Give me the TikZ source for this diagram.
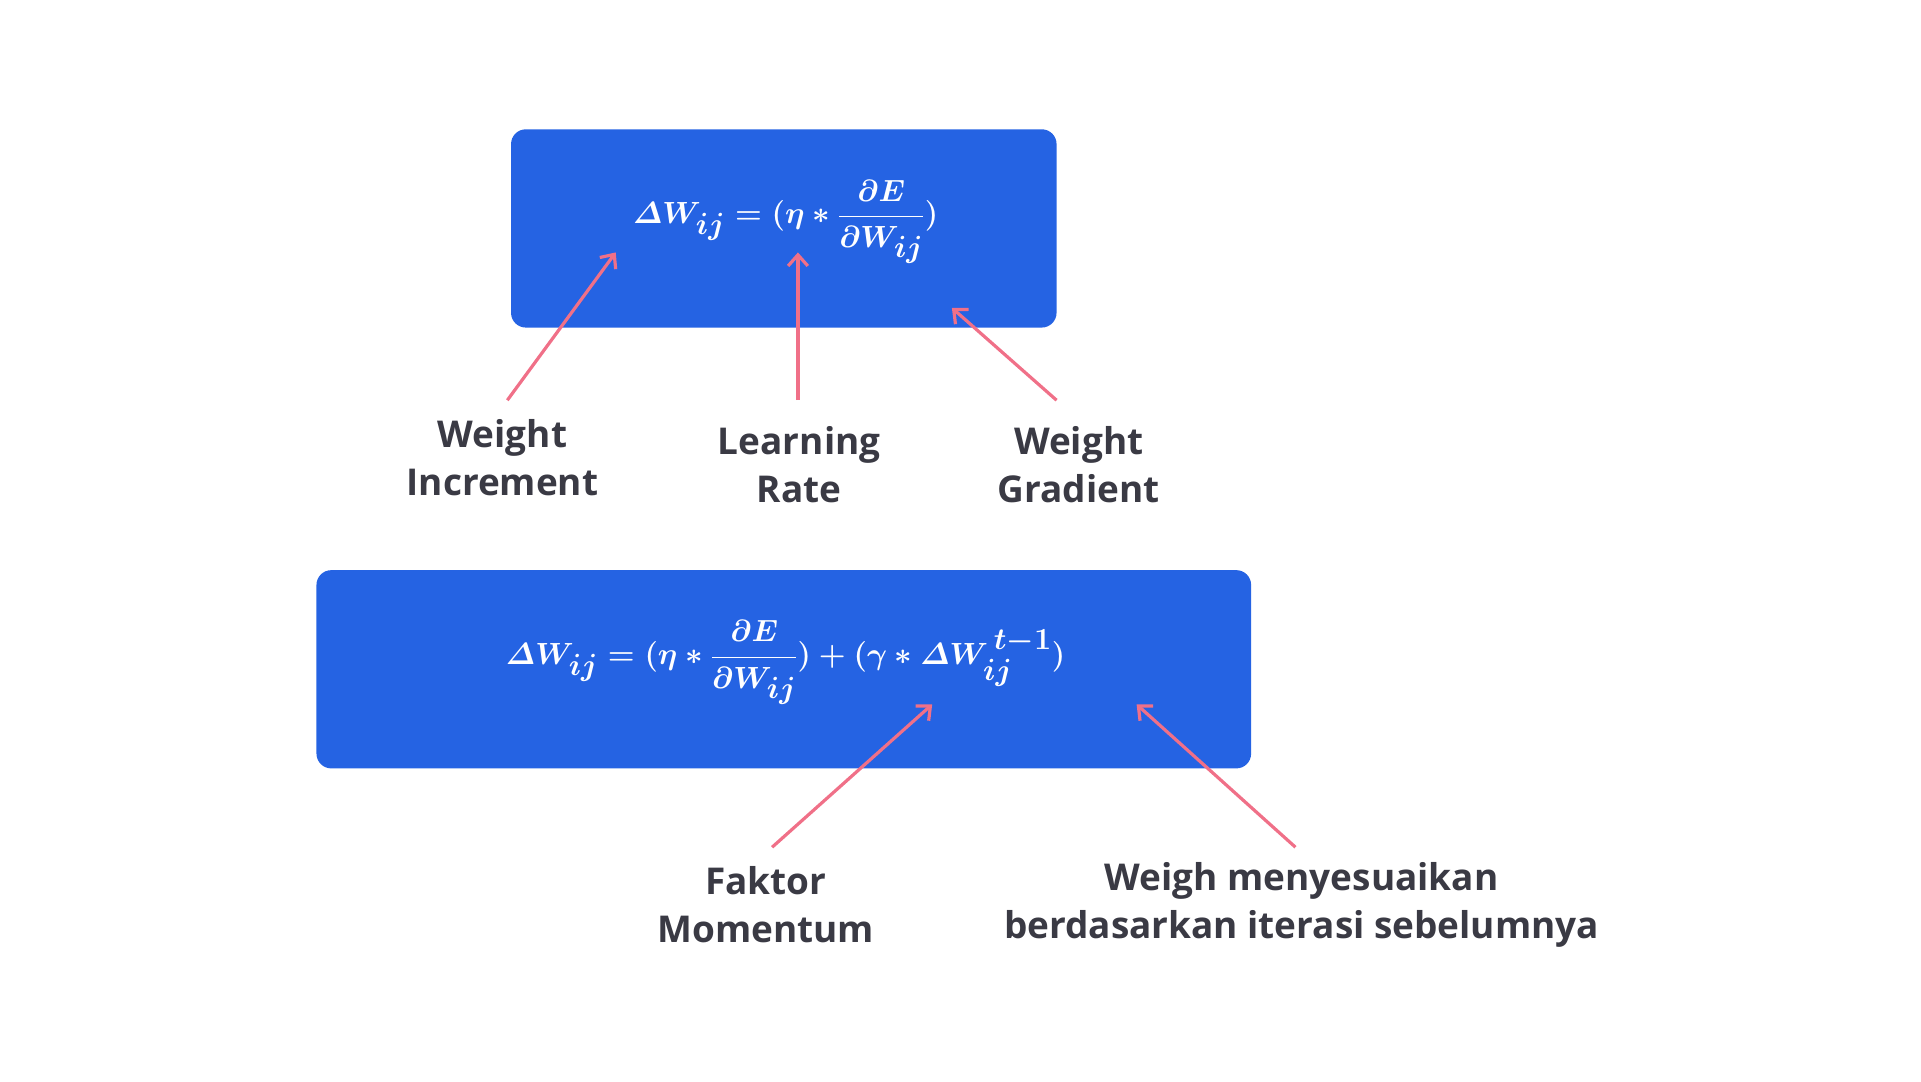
\documentclass[tikz,border=0pt]{standalone}
\usepackage{amsmath}
\usepackage{fontspec}
\setmainfont{Open Sans}
\usetikzlibrary{arrows.meta}
\definecolor{boxblue}{HTML}{2563E3}
\definecolor{pointer}{HTML}{F07088}
\definecolor{labeltext}{HTML}{3A3A44}
\tikzset{
  eqbox/.style={fill=boxblue, rounded corners=12pt},
  eqtext/.style={text=white, font=\fontsize{36}{40}\selectfont\boldmath},
  caption/.style={text=labeltext, align=center, font=\fontsize{30}{39}\selectfont\bfseries},
  pointto/.style={draw=pointer, line width=2.6pt, -{Straight Barb[length=9pt,width=16pt]}}
}
\begin{document}
\begin{tikzpicture}[x=1pt,y=-1pt]
\useasboundingbox (0,0) rectangle (1560,878);
% first formula
\fill[eqbox] (415,105) rectangle (858,266);
\node[eqtext] (eqa) at (638,180) {$\varDelta W_{ij} = (\eta * \dfrac{\partial E}{\partial W_{ij}})$};
% second formula
\fill[eqbox] (257,463) rectangle (1016,624);
\node[eqtext] (eqb) at (638,538) {$\varDelta W_{ij} = (\eta * \dfrac{\partial E}{\partial W_{ij}}) + (\gamma * \varDelta W_{ij}^{\,t-1})$};
% captions
\node[caption] (incr) at (408,372) {Weight\\Increment};
\node[caption] (rate) at (649,377) {Learning\\Rate};
\node[caption] (grad) at (876,377) {Weight\\Gradient};
\node[caption] (mom) at (622,735) {Faktor\\Momentum};
\node[caption] (prev) at (1057,735) {Weigh menyesuaikan\\berdasarkan iterasi sebelumnya};
% pointers
\coordinate (sa) at (412,325);
\coordinate (sb) at (648,325);
\coordinate (sc) at (858,325);
\coordinate (sd) at (627,688);
\coordinate (se) at (1052,688);
\coordinate (pa) at (500,205);
\coordinate (pb) at (648,205);
\coordinate (pc) at (773,250);
\coordinate (pd) at (757,572);
\coordinate (pe) at (923,572);
\draw[pointto] (sa) -- (pa);
\draw[pointto] (sb) -- (pb);
\draw[pointto] (sc) -- (pc);
\draw[pointto] (sd) -- (pd);
\draw[pointto] (se) -- (pe);
\end{tikzpicture}
\end{document}
